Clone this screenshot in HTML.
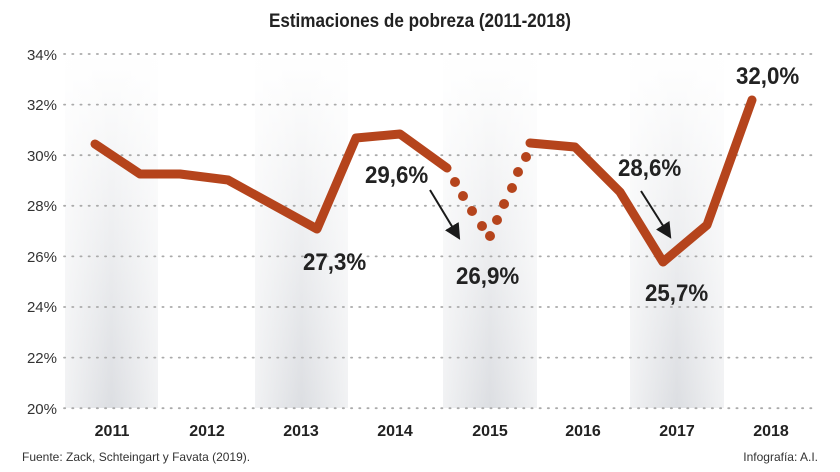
<!DOCTYPE html>
<html><head><meta charset="utf-8"><style>
body{margin:0;background:#fff;width:840px;height:472px;overflow:hidden}
svg{display:block}
text{font-family:"Liberation Sans",sans-serif}
</style></head><body>
<svg width="840" height="472" viewBox="0 0 840 472">
<defs>
<linearGradient id="g" x1="0" y1="0" x2="0" y2="1"><stop offset="0" stop-color="#fff"/><stop offset="1" stop-color="#dcdee2"/></linearGradient>
<linearGradient id="h" x1="0" y1="0" x2="1" y2="0"><stop offset="0" stop-color="#fff" stop-opacity=".6"/><stop offset=".5" stop-color="#fff" stop-opacity="0"/><stop offset="1" stop-color="#fff" stop-opacity=".6"/></linearGradient>
<marker id="a" markerWidth="8" markerHeight="8" refX="4" refY="4" orient="auto"><path d="M0,0 L8,4 L0,8 Z" fill="#1a1a1a"/></marker>
</defs>
<g fill="url(#g)">
<rect x="65" y="54" width="93" height="354"/><rect x="255" y="54" width="93" height="354"/>
<rect x="443" y="54" width="94" height="354"/><rect x="630" y="54" width="94" height="354"/>
</g>
<g fill="url(#h)">
<rect x="65" y="54" width="93" height="354"/><rect x="255" y="54" width="93" height="354"/>
<rect x="443" y="54" width="94" height="354"/><rect x="630" y="54" width="94" height="354"/>
</g>
<text x="420" y="27" text-anchor="middle" font-size="19" font-weight="bold" fill="#222" transform="translate(420 0) scale(0.9 1) translate(-420 0)">Estimaciones de pobreza (2011-2018)</text>
<g stroke="#aaa" stroke-width="1.8" stroke-dasharray="1.2 7" stroke-linecap="round">
<line x1="64" y1="54" x2="817" y2="54"/><line x1="64" y1="104.6" x2="817" y2="104.6"/>
<line x1="64" y1="155.2" x2="817" y2="155.2"/><line x1="64" y1="205.8" x2="817" y2="205.8"/>
<line x1="64" y1="256.4" x2="817" y2="256.4"/><line x1="64" y1="307" x2="817" y2="307"/>
<line x1="64" y1="357.6" x2="817" y2="357.6"/><line x1="64" y1="408.2" x2="817" y2="408.2"/>
</g>
<g font-size="15" fill="#333" text-anchor="end">
<text x="57" y="60">34%</text><text x="57" y="110">32%</text><text x="57" y="161">30%</text>
<text x="57" y="211">28%</text><text x="57" y="262">26%</text><text x="57" y="312">24%</text>
<text x="57" y="363">22%</text><text x="57" y="414">20%</text>
</g>
<g fill="none" stroke="#b5441c" stroke-width="9" stroke-linejoin="round" stroke-linecap="round">
<polyline points="95,144 140,174 180,174 228,180 317,229 356,138 400,134 447,168"/>
<polyline points="530,143 575,147 620,192 663,262 707,225 752,100"/>
</g>
<g fill="#b5441c">
<circle cx="455" cy="182" r="5"/><circle cx="463" cy="196" r="5"/><circle cx="472" cy="211" r="5"/>
<circle cx="482" cy="226" r="5"/><circle cx="490" cy="236" r="5"/><circle cx="497" cy="220" r="5"/>
<circle cx="504" cy="204" r="5"/><circle cx="512" cy="188" r="5"/><circle cx="518" cy="172" r="5"/>
<circle cx="526" cy="157" r="5"/>
</g>
<g stroke="#1a1a1a" stroke-width="2" marker-end="url(#a)">
<line x1="430" y1="190" x2="456" y2="233"/><line x1="641" y1="191" x2="667" y2="232"/>
</g>
<g font-size="24" font-weight="bold" fill="#222">
<text x="365" y="183" transform="translate(365 0) scale(0.93 1) translate(-365 0)">29,6%</text>
<text x="303" y="270" transform="translate(303 0) scale(0.93 1) translate(-303 0)">27,3%</text>
<text x="456" y="284" transform="translate(456 0) scale(0.93 1) translate(-456 0)">26,9%</text>
<text x="618" y="176" transform="translate(618 0) scale(0.93 1) translate(-618 0)">28,6%</text>
<text x="645" y="301" transform="translate(645 0) scale(0.93 1) translate(-645 0)">25,7%</text>
<text x="736" y="84" transform="translate(736 0) scale(0.93 1) translate(-736 0)">32,0%</text>
</g>
<g font-size="16" font-weight="bold" fill="#222" text-anchor="middle">
<text x="112" y="436">2011</text><text x="207" y="436">2012</text><text x="301" y="436">2013</text>
<text x="395" y="436">2014</text><text x="490" y="436">2015</text><text x="583" y="436">2016</text>
<text x="677" y="436">2017</text><text x="771" y="436">2018</text>
</g>
<text x="22" y="461" font-size="12" fill="#333">Fuente: Zack, Schteingart y Favata (2019).</text>
<text x="818" y="461" font-size="12" fill="#333" text-anchor="end">Infografía: A.I.</text>
</svg>
</body></html>
